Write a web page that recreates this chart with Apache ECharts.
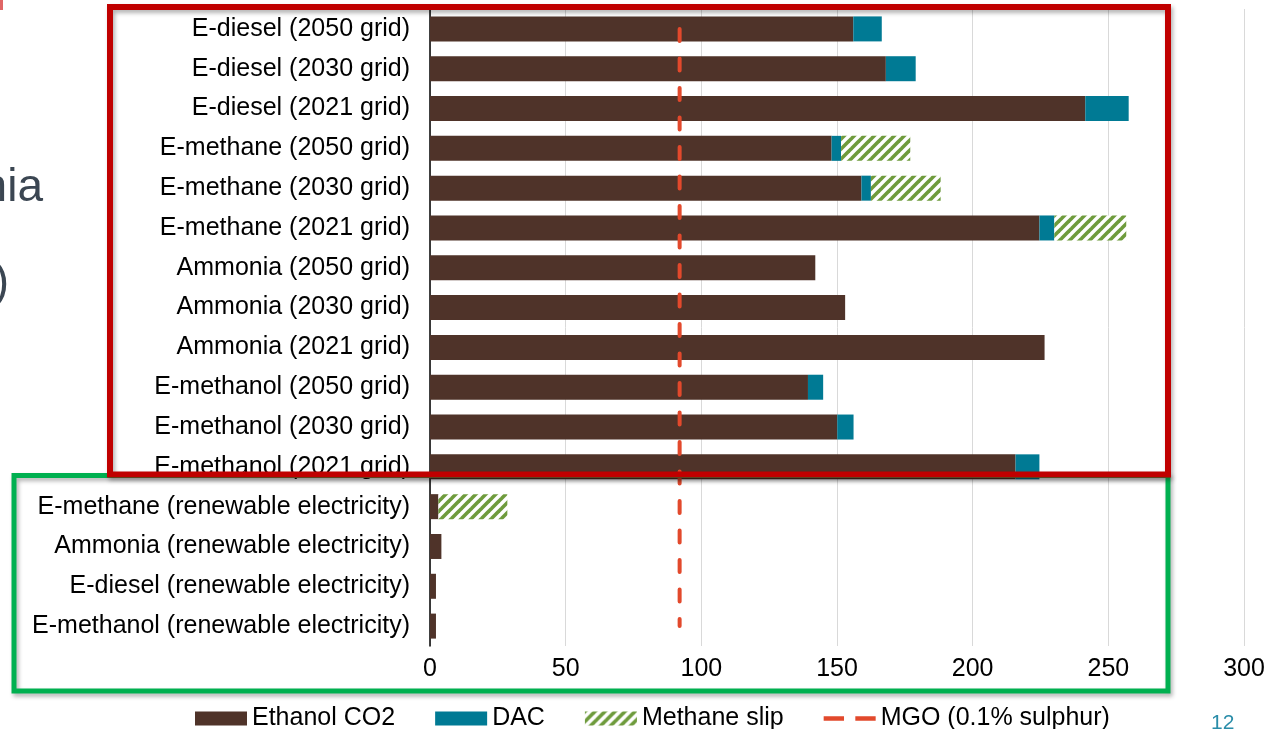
<!DOCTYPE html>
<html><head><meta charset="utf-8">
<script src="https://cdn.jsdelivr.net/npm/echarts@6/dist/echarts.min.js"></script>
<style>html,body{margin:0;padding:0;background:#fff}#c{width:1282px;height:729px}</style>
</head><body><div id="c"></div>
<script>
// Categories listed top to bottom
const categories = [
  'E-diesel (2050 grid)',
  'E-diesel (2030 grid)',
  'E-diesel (2021 grid)',
  'E-methane (2050 grid)',
  'E-methane (2030 grid)',
  'E-methane (2021 grid)',
  'Ammonia (2050 grid)',
  'Ammonia (2030 grid)',
  'Ammonia (2021 grid)',
  'E-methanol (2050 grid)',
  'E-methanol (2030 grid)',
  'E-methanol (2021 grid)',
  'E-methane (renewable electricity)',
  'Ammonia (renewable electricity)',
  'E-diesel (renewable electricity)',
  'E-methanol (renewable electricity)'
];
const ethanolCO2 = [156, 168, 241.5, 148, 159, 224.6, 142, 153, 226.5, 139.3, 150.1, 215.8, 3.1, 4.2, 2.2, 2.2];
const dac        = [10.5, 11, 16, 3.5, 3.5, 5.5, 0, 0, 0, 5.6, 6, 8.8, 0, 0, 0, 0];
const methaneSlip= [0, 0, 0, 25.5, 25.7, 26.5, 0, 0, 0, 0, 0, 0, 25.4, 0, 0, 0];
const mgoValue = 92;
const seriesNames = ['Ethanol CO2', 'DAC', 'Methane slip', 'MGO (0.1% sulphur)'];

// hatch pattern for methane slip
const pc = document.createElement('canvas');
pc.width = 10; pc.height = 10;
const g = pc.getContext('2d');
g.fillStyle = '#ffffff'; g.fillRect(0,0,10,10);
g.strokeStyle = '#6E9B3C'; g.lineWidth = 3.6;
[[-5,5,5,-5],[0,10,10,0],[5,15,15,5]].forEach(function(l){
  g.beginPath(); g.moveTo(l[0],l[1]); g.lineTo(l[2],l[3]); g.stroke();
});
const hatch = {image: pc, repeat: 'repeat'};

const FONT = '"Liberation Sans", Arial, Helvetica, sans-serif';
const chart = echarts.init(document.getElementById('c'), null, {renderer: 'canvas'});
chart.setOption({
  backgroundColor: '#ffffff',
  animation: false,
  textStyle: {fontFamily: FONT},
  grid: {left: 430, right: 38, top: 9, bottom: 83, containLabel: false},
  xAxis: {
    type: 'value', min: 0, max: 300, interval: 50,
    axisLine: {show: false}, axisTick: {show: false},
    splitLine: {show: true, lineStyle: {color: '#D9D9D9', width: 1}},
    axisLabel: {color: '#000', fontSize: 25, fontFamily: FONT, margin: 11}
  },
  yAxis: {
    type: 'category', data: categories, inverse: true,
    axisLine: {show: true, lineStyle: {color: '#000', width: 1.5}},
    axisTick: {show: false},
    axisLabel: {color: '#000', fontSize: 25, fontFamily: FONT, margin: 20}
  },
  legend: {
    left: 190, top: 701, itemWidth: 52, itemHeight: 14, itemGap: 40,
    textStyle: {color: '#000', fontSize: 25, fontFamily: FONT},
    data: [
      {name: seriesNames[0], icon: 'rect'},
      {name: seriesNames[1], icon: 'rect'},
      {name: seriesNames[2], icon: 'rect'},
      {name: seriesNames[3], icon: 'path://M0,0h18v4H0zM28,0h18v4H28z', itemStyle: {color: '#E2492C'}}
    ]
  },
  series: [
    {name: seriesNames[0], type: 'bar', stack: 'total', barWidth: 25, data: ethanolCO2,
     itemStyle: {color: '#4F3329'}},
    {name: seriesNames[1], type: 'bar', stack: 'total', barWidth: 25, data: dac,
     itemStyle: {color: '#007A94'}},
    {name: seriesNames[2], type: 'bar', stack: 'total', barWidth: 25, data: methaneSlip,
     itemStyle: {color: hatch}},
    {name: seriesNames[3], type: 'line', symbol: 'none', z: 5,
     data: [[mgoValue, categories[0]], [mgoValue, categories[categories.length - 1]]],
     lineStyle: {color: '#E2492C', width: 4, type: [12, 17.5], cap: 'round'},
     itemStyle: {color: '#E2492C'}}
  ],
  graphic: [
    {type: 'rect', z: 100, shape: {x: 14, y: 475.5, width: 1154, height: 215.5},
     style: {fill: 'none', stroke: '#00B050', lineWidth: 5, shadowBlur: 4, shadowOffsetX: 2, shadowOffsetY: 3, shadowColor: 'rgba(0,0,0,0.3)'}},
    {type: 'rect', z: 101, shape: {x: 110, y: 7, width: 1058, height: 467.5},
     style: {fill: 'none', stroke: '#C00000', lineWidth: 6, shadowBlur: 4, shadowOffsetX: 2, shadowOffsetY: 3, shadowColor: 'rgba(0,0,0,0.3)'}},
    {type: 'text', z: 100, style: {text: 'nia', x: 43, y: 188, textAlign: 'right', textVerticalAlign: 'middle', font: '46px ' + FONT, fill: '#3B4652'}},
    {type: 'text', z: 100, style: {text: ')', x: 9, y: 283, textAlign: 'right', textVerticalAlign: 'middle', font: '46px ' + FONT, fill: '#3B4652'}},
    {type: 'text', z: 100, style: {text: '12', x: 1211, y: 713, textAlign: 'left', textVerticalAlign: 'top', font: '21px ' + FONT, fill: '#2A8DA9'}},
    {type: 'rect', z: 100, shape: {x: 0, y: 0, width: 3, height: 10}, style: {fill: '#E06666'}}
  ]
});
</script></body></html>
